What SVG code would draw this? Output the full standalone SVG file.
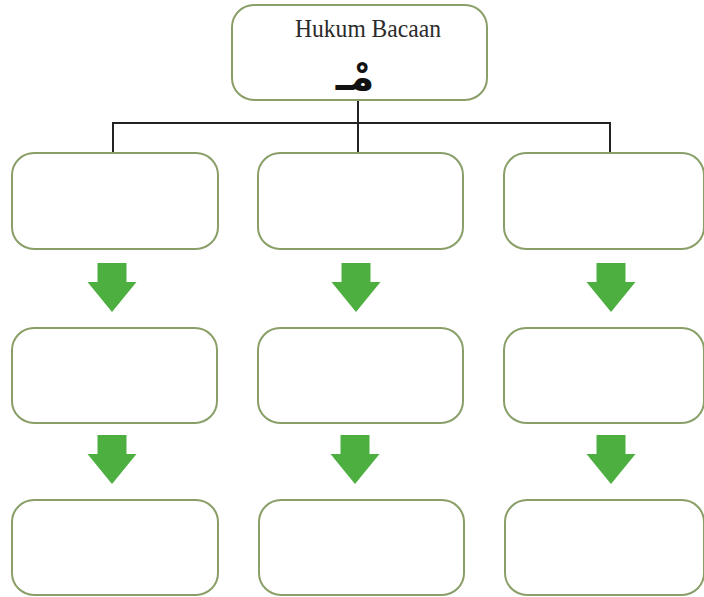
<svg xmlns="http://www.w3.org/2000/svg" width="704" height="597" viewBox="0 0 704 597">
  <style>
    .box { fill: #ffffff; stroke: #8a9f68; stroke-width: 2; }
    .tree { fill: none; stroke: #222222; stroke-width: 2; }
    .down { fill: #4caf3f; }
    .title { font-family: "Liberation Serif", "Times New Roman", serif; font-size: 26px; fill: #2a2a2a; }
    .arabic { font-family: "DejaVu Sans", "Noto Sans", sans-serif; font-size: 40px; font-weight: bold; fill: #111111; }
  </style>
  <defs>
    <!-- block arrow pointing down, origin at its horizontal centre / top -->
    <path id="downArrow" d="M -14.5 0 H 14.5 V 19 H 24.5 L 0 49 L -24.5 19 H -14.5 Z"/>
  </defs>
  <rect width="704" height="597" fill="#ffffff"/>

  <!-- connectors -->
  <g id="connectors">
    <path class="tree" d="M 358 100 V 153 M 113 123 H 610 M 113 122 V 153 M 610 122 V 153"/>
    <use href="#downArrow" class="down" x="112" y="263"/>
    <use href="#downArrow" class="down" x="356" y="263"/>
    <use href="#downArrow" class="down" x="611" y="263"/>
    <use href="#downArrow" class="down" x="112" y="435"/>
    <use href="#downArrow" class="down" x="355" y="435"/>
    <use href="#downArrow" class="down" x="611" y="435"/>
  </g>

  <!-- root node -->
  <g id="root">
    <rect class="box" x="232" y="5" width="255" height="95" rx="22"/>
    <text class="title" x="368" y="37" text-anchor="middle" textLength="146" lengthAdjust="spacingAndGlyphs">Hukum Bacaan</text>
    <text class="arabic" x="355" y="90" text-anchor="middle" direction="rtl">مْـ</text>
  </g>

  <!-- first row -->
  <g id="n1a"><rect class="box" x="12" y="153" width="206" height="96" rx="22"/></g>
  <g id="n1b"><rect class="box" x="258" y="153" width="205" height="96" rx="22"/></g>
  <g id="n1c"><rect class="box" x="504" y="153" width="200" height="96" rx="22"/></g>

  <!-- second row -->
  <g id="n2a"><rect class="box" x="12" y="328" width="205" height="95" rx="22"/></g>
  <g id="n2b"><rect class="box" x="258" y="328" width="205" height="95" rx="22"/></g>
  <g id="n2c"><rect class="box" x="504" y="328" width="200" height="95" rx="22"/></g>

  <!-- third row -->
  <g id="n3a"><rect class="box" x="12" y="500" width="206" height="95" rx="22"/></g>
  <g id="n3b"><rect class="box" x="259" y="500" width="205" height="95" rx="22"/></g>
  <g id="n3c"><rect class="box" x="505" y="500" width="199" height="95" rx="22"/></g>
</svg>
